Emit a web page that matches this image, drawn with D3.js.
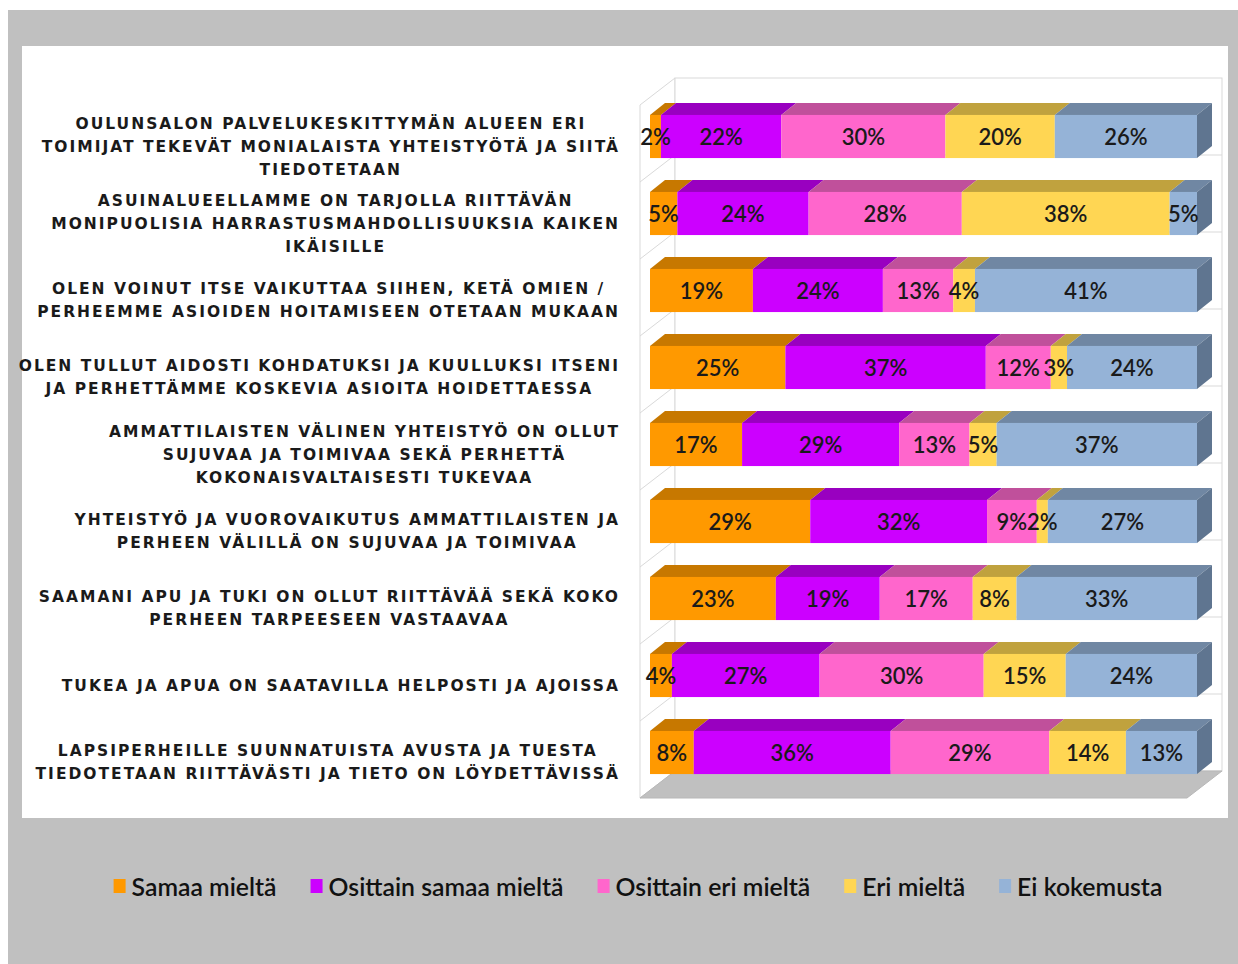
<!DOCTYPE html>
<html>
<head>
<meta charset="utf-8">
<script src="https://cdn.jsdelivr.net/npm/d3@7"></script>
<style>
  body { margin: 0; background: #fff; }
  svg { display: block; }
</style>
</head>
<body>
<div id="chart"></div>
<script>
const categories = [
  'OULUNSALON PALVELUKESKITTYMÄN ALUEEN ERI|TOIMIJAT TEKEVÄT MONIALAISTA YHTEISTYÖTÄ JA SIITÄ|TIEDOTETAAN',
  'ASUINALUEELLAMME ON TARJOLLA RIITTÄVÄN|MONIPUOLISIA HARRASTUSMAHDOLLISUUKSIA KAIKEN|IKÄISILLE',
  'OLEN VOINUT ITSE VAIKUTTAA SIIHEN, KETÄ OMIEN /|PERHEEMME ASIOIDEN HOITAMISEEN OTETAAN MUKAAN',
  'OLEN TULLUT AIDOSTI KOHDATUKSI JA KUULLUKSI ITSENI|JA PERHETTÄMME KOSKEVIA ASIOITA HOIDETTAESSA',
  'AMMATTILAISTEN VÄLINEN YHTEISTYÖ ON OLLUT|SUJUVAA JA TOIMIVAA SEKÄ PERHETTÄ|KOKONAISVALTAISESTI TUKEVAA',
  'YHTEISTYÖ JA VUOROVAIKUTUS AMMATTILAISTEN JA|PERHEEN VÄLILLÄ ON SUJUVAA JA TOIMIVAA',
  'SAAMANI APU JA TUKI ON OLLUT RIITTÄVÄÄ SEKÄ KOKO|PERHEEN TARPEESEEN VASTAAVAA',
  'TUKEA JA APUA ON SAATAVILLA HELPOSTI JA AJOISSA',
  'LAPSIPERHEILLE SUUNNATUISTA AVUSTA JA TUESTA|TIEDOTETAAN RIITTÄVÄSTI JA TIETO ON LÖYDETTÄVISSÄ'
];
const seriesNames = ['Samaa mieltä', 'Osittain samaa mieltä', 'Osittain eri mieltä', 'Eri mieltä', 'Ei kokemusta'];
const samaa         = [2, 5, 19, 25, 17, 29, 23, 4, 8];
const osittainSamaa = [22, 24, 24, 37, 29, 32, 19, 27, 36];
const osittainEri   = [30, 28, 13, 12, 13, 9, 17, 30, 29];
const eriMielta     = [20, 38, 4, 3, 5, 2, 8, 15, 14];
const eiKokemusta   = [26, 5, 41, 24, 37, 27, 33, 24, 13];

const frontColors = ['#ff9900', '#cc00ff', '#ff66cc', '#ffd653', '#95b3d7'];
const topColors   = ['#c77800', '#9900c0', '#c0509b', '#c0a23e', '#7087a3'];
const sideColors  = ['#a86400', '#8000a0', '#a84488', '#a68a35', '#5f7590'];

const W = 1238, H = 964;
const svg = d3.select('#chart').append('svg').attr('width', W).attr('height', H);

// backgrounds
svg.append('rect').attr('x', 8).attr('y', 10).attr('width', W - 8).attr('height', H - 10).attr('fill', '#c0c0c0');
svg.append('rect').attr('x', 22).attr('y', 46).attr('width', 1206).attr('height', 772).attr('fill', '#fff');

const rows = categories.map((c, i) => ({
  cat: c,
  'Samaa mieltä': samaa[i],
  'Osittain samaa mieltä': osittainSamaa[i],
  'Osittain eri mieltä': osittainEri[i],
  'Eri mieltä': eriMielta[i],
  'Ei kokemusta': eiKokemusta[i]
}));
const stacked = d3.stack().keys(seriesNames).offset(d3.stackOffsetExpand)(rows);

// front plane scales
const x = d3.scaleLinear().domain([0, 1]).range([640, 1187]);
const y = d3.scaleBand().domain(categories).range([105, 798]).paddingInner(0.44).paddingOuter(0.22);
const depth = {dx: 35, dy: -27};
const barFront = {dx: 10, dy: -7};
const barDepth = {dx: 15, dy: -12};

// walls + floor
const wallColor = '#d9d9d9';
const top0 = 105, bot0 = 798;
svg.append('polygon')
  .attr('points', [[x(0), top0], [x(0) + depth.dx, top0 + depth.dy], [x(0) + depth.dx, bot0 + depth.dy], [x(0), bot0]].join(' '))
  .attr('fill', '#fff').attr('stroke', wallColor);
svg.append('rect')
  .attr('x', x(0) + depth.dx).attr('y', top0 + depth.dy)
  .attr('width', x(1) - x(0)).attr('height', bot0 - top0)
  .attr('fill', '#fff').attr('stroke', wallColor);
svg.append('polygon')
  .attr('points', [[x(0), bot0], [x(1), bot0], [x(1) + depth.dx, bot0 + depth.dy], [x(0) + depth.dx, bot0 + depth.dy]].join(' '))
  .attr('fill', '#c0c0c0').attr('stroke', '#b8b8b8');

// category gridlines on walls
const step = y.step();
const gridYs = d3.range(1, categories.length).map(k => top0 + k * step);
const grid = svg.append('g').attr('stroke', wallColor).attr('fill', 'none');
gridYs.forEach(gy => {
  grid.append('polyline').attr('points', [[x(0), gy], [x(0) + depth.dx, gy + depth.dy], [x(1) + depth.dx, gy + depth.dy]].join(' '));
});

// bars
const bars = svg.append('g');
categories.forEach((cat, i) => {
  const y0 = y(cat) + barFront.dy, y1 = y0 + y.bandwidth();
  stacked.forEach((s, k) => {
    const d = s[i];
    const xa = x(d[0]) + barFront.dx, xb = x(d[1]) + barFront.dx;
    bars.append('polygon')
      .attr('points', [[xa, y0], [xb, y0], [xb + barDepth.dx, y0 + barDepth.dy], [xa + barDepth.dx, y0 + barDepth.dy]].join(' '))
      .attr('fill', topColors[k]);
    bars.append('rect').attr('x', xa).attr('y', y0).attr('width', xb - xa).attr('height', y1 - y0).attr('fill', frontColors[k]);
    if (k === stacked.length - 1) {
      bars.append('polygon')
        .attr('points', [[xb, y0], [xb + barDepth.dx, y0 + barDepth.dy], [xb + barDepth.dx, y1 + barDepth.dy], [xb, y1]].join(' '))
        .attr('fill', sideColors[k]);
    }
  });
  stacked.forEach((s, k) => {
    const d = s[i];
    const xa = x(d[0]) + barFront.dx, xb = x(d[1]) + barFront.dx;
    bars.append('text')
      .attr('x', (xa + xb) / 2).attr('y', (y0 + y1) / 2 + 8)
      .attr('text-anchor', 'middle')
      .attr('font-family', 'Lato, "Open Sans", sans-serif').attr('font-size', 22).attr('font-weight', 600)
      .attr('fill', '#1a1a1a')
      .text(d.data[seriesNames[k]] + '%');
  });
});

// category labels
const labels = svg.append('g')
  .attr('font-family', '"DejaVu Sans", sans-serif').attr('font-size', 15.5).attr('font-weight', 'bold')
  .attr('letter-spacing', '2px').attr('fill', '#1a1a1a');
categories.forEach(cat => {
  const lines = cat.split('|');
  const cy = y(cat) + y.bandwidth() / 2 + 3;
  const lh = 23;
  const g = labels.append('g');
  const ts = lines.map((ln, j) => g.append('text')
    .attr('y', cy + (j - (lines.length - 1) / 2) * lh + 5)
    .attr('text-anchor', 'middle').text(ln));
  const maxW = d3.max(ts, t => t.node().getComputedTextLength());
  ts.forEach(t => t.attr('x', 620 - maxW / 2));
});

// legend
const legend = svg.append('g').attr('font-family', 'Lato, "Open Sans", sans-serif').attr('font-size', 24.8).attr('font-weight', 600).attr('fill', '#111');
let lx = 0;
seriesNames.forEach((n, k) => {
  const g = legend.append('g');
  g.append('rect').attr('x', 0).attr('y', -9).attr('width', 12).attr('height', 14).attr('fill', frontColors[k]);
  const t = g.append('text').attr('x', 18).attr('y', 8).text(n);
  const w = 18 + t.node().getComputedTextLength();
  g.attr('transform', `translate(${lx},888)`);
  lx += w + 34;
});
const totalW = lx - 34;
legend.attr('transform', `translate(${638 - totalW / 2},0)`);
</script>
</body>
</html>
